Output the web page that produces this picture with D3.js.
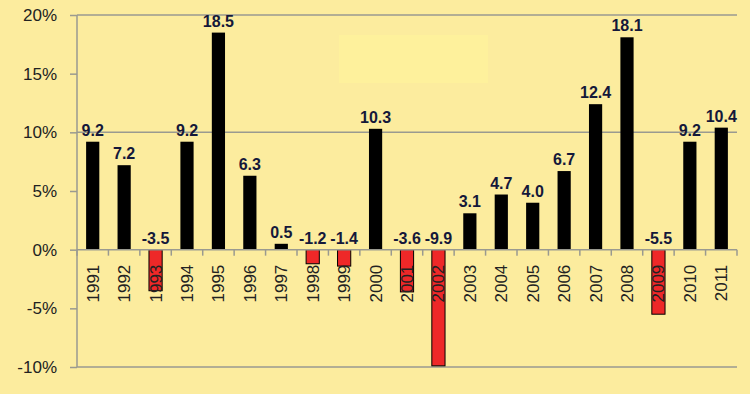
<!DOCTYPE html>
<html>
  <head>
    <meta charset="utf-8" />
    <script src="https://d3js.org/d3.v7.min.js"></script>
    <style>
      body { margin: 0; background: #fcec9e; }
    </style>
  </head>
  <body>
    <script>
      // Annual change, %
      const years = ["1991", "1992", "1993", "1994", "1995", "1996", "1997", "1998", "1999", "2000", "2001",
        "2002", "2003", "2004", "2005", "2006", "2007", "2008", "2009", "2010", "2011"];
      const values = [9.2, 7.2, -3.5, 9.2, 18.5, 6.3, 0.5, -1.2, -1.4, 10.3, -3.6,
        -9.9, 3.1, 4.7, 4.0, 6.7, 12.4, 18.1, -5.5, 9.2, 10.4];
      const yTicks = [-10, -5, 0, 5, 10, 15, 20];
      const gridTicks = [-10, 10, 20];

      const width = 750, height = 394;
      const margin = { top: 15, right: 13, bottom: 27, left: 77 };

      const svg = d3.select("body").append("svg")
        .attr("width", width)
        .attr("height", height);

      // background
      svg.append("rect")
        .attr("width", width).attr("height", height)
        .attr("fill", "#fcec9e");
      // slightly lighter patch near the top
      svg.append("rect")
        .attr("x", 339).attr("y", 35).attr("width", 149).attr("height", 48)
        .attr("fill", "#fef19c");

      const x = d3.scaleBand()
        .domain(years)
        .range([margin.left, width - margin.right])
        .paddingInner(0.58)
        .paddingOuter(0.29);

      const y = d3.scaleLinear()
        .domain([-10, 20])
        .range([height - margin.bottom, margin.top]);

      // grid lines
      svg.append("g")
        .selectAll("line")
        .data(gridTicks)
        .join("line")
        .attr("x1", margin.left)
        .attr("x2", width - margin.right)
        .attr("y1", d => y(d))
        .attr("y2", d => y(d))
        .attr("stroke", "#9a9a90")
        .attr("stroke-width", 1.5);

      // y axis
      const yAxis = svg.append("g")
        .attr("transform", `translate(${margin.left},0)`)
        .call(d3.axisLeft(y).tickValues(yTicks).tickSize(7).tickPadding(13)
          .tickFormat(d => d + "%"));
      yAxis.selectAll("line, path").attr("stroke", "#9a9a90").attr("stroke-width", 1.5);
      yAxis.select(".domain").attr("d", `M0,${y(20)}V${y(-10)}`);
      yAxis.selectAll("text")
        .attr("font-family", "Liberation Sans, Arial, sans-serif")
        .attr("font-size", 17)
        .attr("fill", "#222");

      // bars
      svg.append("g")
        .selectAll("rect")
        .data(values)
        .join("rect")
        .attr("x", (d, i) => x(years[i]))
        .attr("width", x.bandwidth())
        .attr("y", d => y(Math.max(0, d)))
        .attr("height", d => Math.abs(y(d) - y(0)))
        .attr("fill", d => d < 0 ? "#ee2828" : "#000")
        .attr("stroke", "#000")
        .attr("stroke-width", d => d < 0 ? 1 : 0);

      // x axis line with category ticks
      const step = x.step();
      const tickXs = d3.range(years.length + 1).map(i => margin.left + i * step);
      svg.append("line")
        .attr("x1", margin.left).attr("x2", width - margin.right)
        .attr("y1", y(0)).attr("y2", y(0))
        .attr("stroke", "#9a9a90").attr("stroke-width", 1.5);
      svg.append("g")
        .selectAll("line")
        .data(tickXs)
        .join("line")
        .attr("x1", d => d).attr("x2", d => d)
        .attr("y1", y(0)).attr("y2", y(0) + 6)
        .attr("stroke", "#9a9a90").attr("stroke-width", 1.5);

      // x labels, rotated
      svg.append("g")
        .selectAll("text")
        .data(years)
        .join("text")
        .attr("transform", d => `translate(${x(d) + x.bandwidth() / 2 + 6},${y(0) + 15}) rotate(-90)`)
        .attr("text-anchor", "end")
        .attr("font-family", "Liberation Sans, Arial, sans-serif")
        .attr("font-size", 17)
        .attr("fill", "#222")
        .text(d => d);

      // value labels
      svg.append("g")
        .selectAll("text")
        .data(values)
        .join("text")
        .attr("x", (d, i) => x(years[i]) + x.bandwidth() / 2)
        .attr("y", d => y(Math.max(0, d)) - 6)
        .attr("text-anchor", "middle")
        .attr("font-family", "Liberation Sans, Arial, sans-serif")
        .attr("font-weight", "bold")
        .attr("font-size", 16)
        .attr("fill", "#14183a")
        .text(d => d.toFixed(1));
    </script>
  </body>
</html>
